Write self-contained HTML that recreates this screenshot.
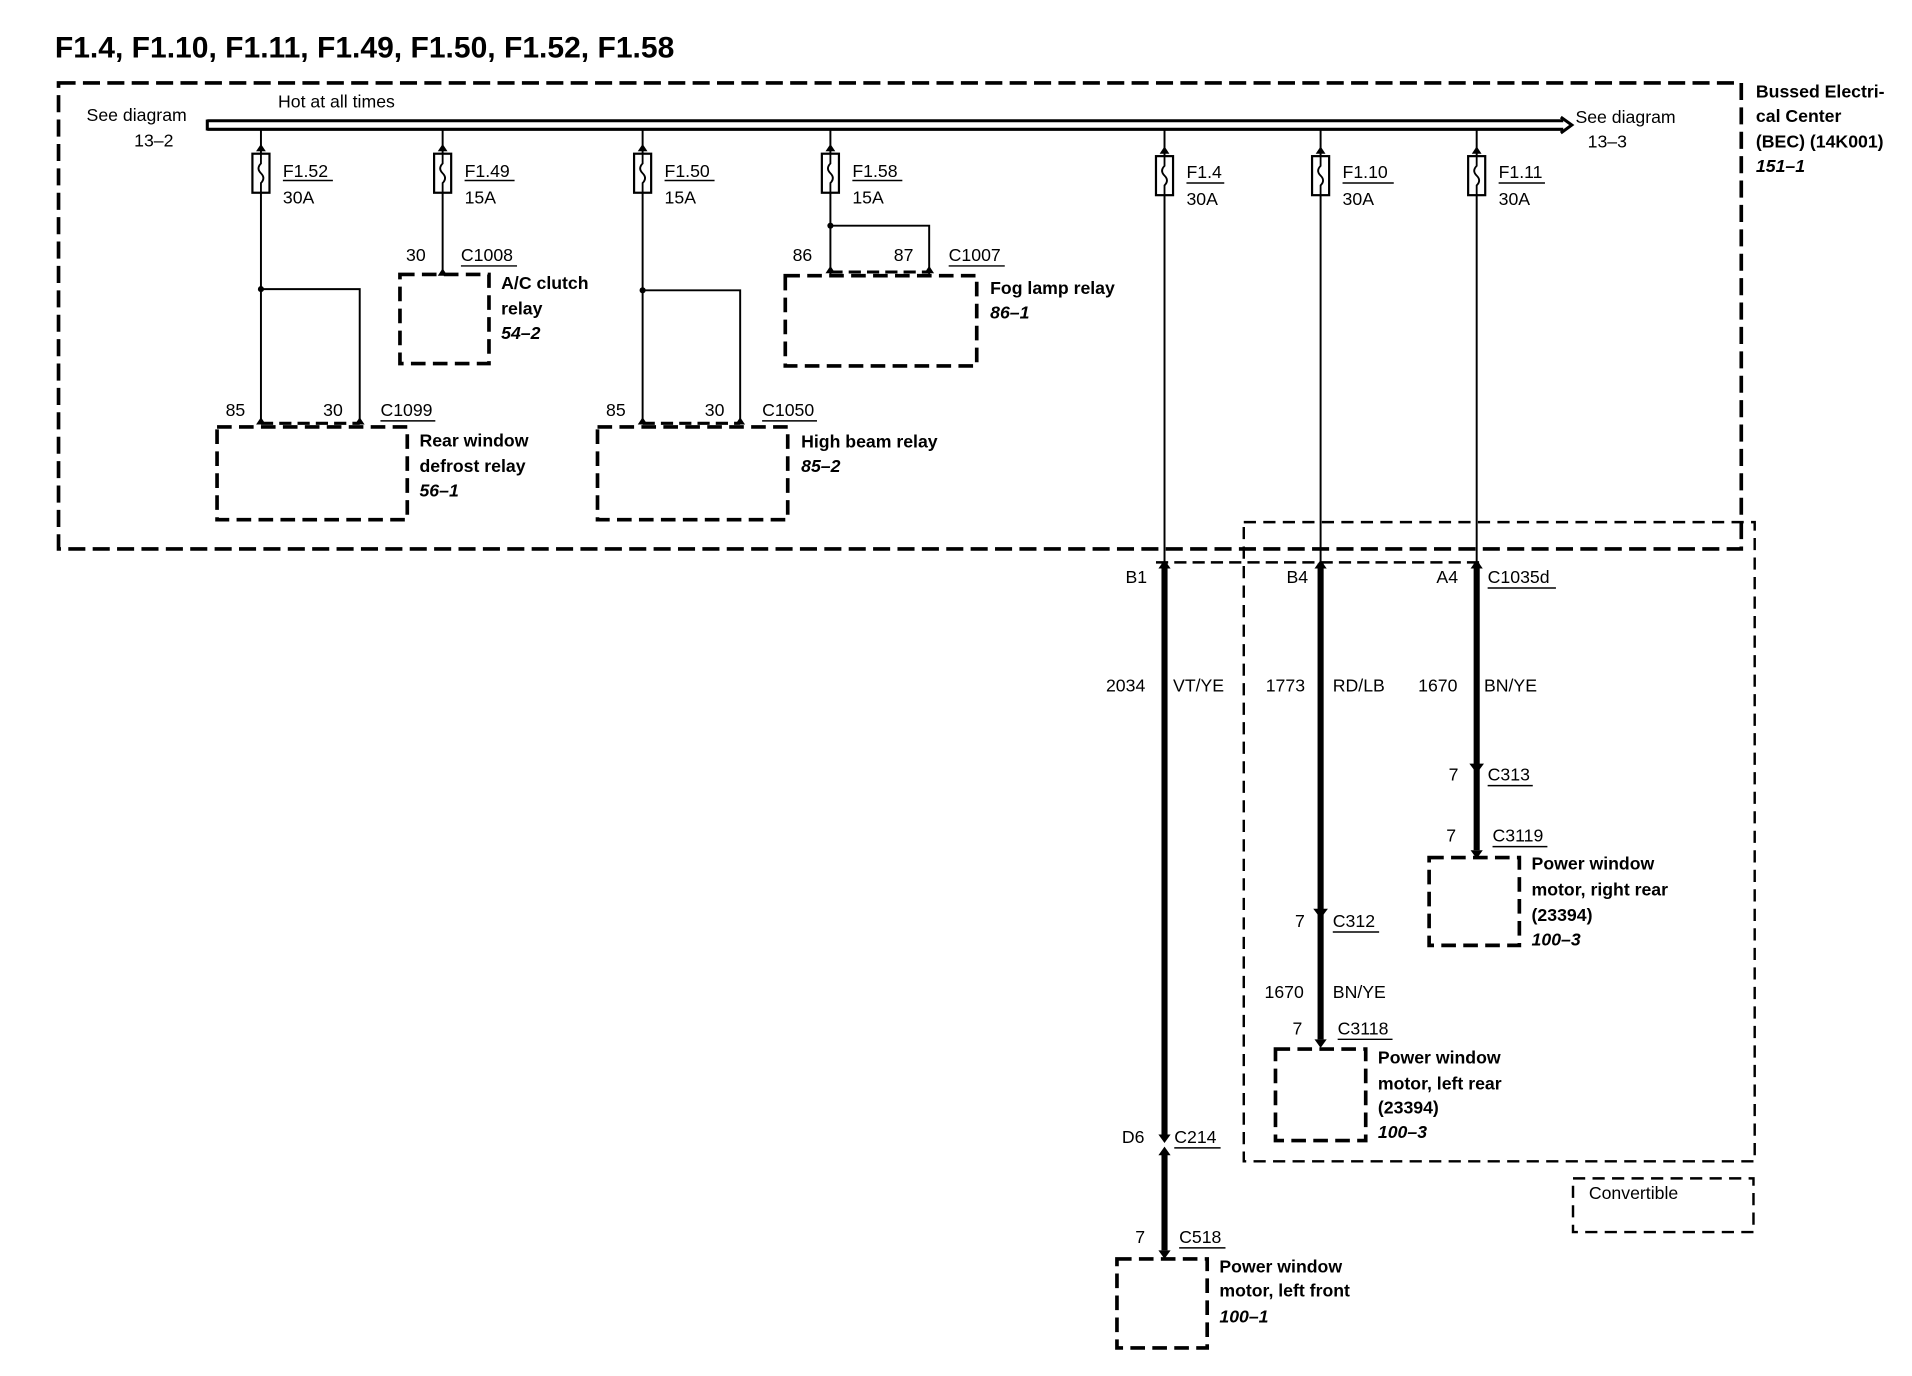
<!DOCTYPE html>
<html><head><meta charset="utf-8"><style>
html,body{margin:0;padding:0;background:#fff;}
svg{display:block;}
text{font-family:"Liberation Sans",Arial,sans-serif;font-size:14.5px;fill:#000;}
.b{font-weight:bold;}
.i{font-weight:bold;font-style:italic;}
</style></head><body>
<svg width="1912" height="1376" viewBox="0 0 1568 1128" preserveAspectRatio="none" xmlns="http://www.w3.org/2000/svg">
<g fill="none" stroke="#000">
<rect x="48" y="68" width="1380" height="382" stroke-width="3" stroke-dasharray="14,6"/>
<rect x="1020" y="428" width="419" height="524" stroke-width="2" stroke-dasharray="10,6"/>
<rect x="1290" y="966" width="148" height="44" stroke-width="2" stroke-dasharray="10,6"/>
<line x1="948" y1="461" x2="1216" y2="461" stroke-width="2" stroke-dasharray="10,5"/>
<line x1="170" y1="99" x2="1282" y2="99" stroke-width="2.5"/>
<line x1="170" y1="106" x2="1282" y2="106" stroke-width="2.5"/>
<line x1="170" y1="98" x2="170" y2="107" stroke-width="2.5"/>
<polyline points="1280,96 1289,102.5 1280,109" stroke-width="2.5"/>
<g stroke-width="1.6">
<line x1="214" y1="106" x2="214" y2="347"/>
<polyline points="214,237 295,237 295,347"/>
<line x1="363" y1="106" x2="363" y2="225"/>
<line x1="527" y1="106" x2="527" y2="347"/>
<polyline points="527,238 607,238 607,347"/>
<line x1="681" y1="106" x2="681" y2="225"/>
<polyline points="681,185 762,185 762,225"/>
<line x1="955" y1="106" x2="955" y2="460"/>
<line x1="1083" y1="106" x2="1083" y2="460"/>
<line x1="1211" y1="106" x2="1211" y2="460"/>
</g>
<g stroke-width="5">
<line x1="955" y1="462" x2="955" y2="932"/>
<line x1="955" y1="945" x2="955" y2="1025"/>
<line x1="1083" y1="462" x2="1083" y2="852"/>
<line x1="1211" y1="462" x2="1211" y2="697"/>
</g>
<g stroke-width="1.8" fill="#fff">
<rect x="207" y="126" width="14" height="32"/>
<rect x="356" y="126" width="14" height="32"/>
<rect x="520" y="126" width="14" height="32"/>
<rect x="674" y="126" width="14" height="32"/>
<rect x="948" y="128" width="14" height="32"/>
<rect x="1076" y="128" width="14" height="32"/>
<rect x="1204" y="128" width="14" height="32"/>
</g>
<g stroke-width="1.5">
<path d="M214,126 v8 q-4,4 0,8 q4,4 0,8 v8"/>
<path d="M363,126 v8 q-4,4 0,8 q4,4 0,8 v8"/>
<path d="M527,126 v8 q-4,4 0,8 q4,4 0,8 v8"/>
<path d="M681,126 v8 q-4,4 0,8 q4,4 0,8 v8"/>
<path d="M955,128 v8 q-4,4 0,8 q4,4 0,8 v8"/>
<path d="M1083,128 v8 q-4,4 0,8 q4,4 0,8 v8"/>
<path d="M1211,128 v8 q-4,4 0,8 q4,4 0,8 v8"/>
</g>
<g stroke-width="3" stroke-dasharray="12,6">
<rect x="178" y="350" width="156" height="76"/>
<rect x="328" y="225" width="73" height="73"/>
<rect x="490" y="350" width="156" height="76"/>
<rect x="644" y="226" width="157" height="74"/>
<rect x="916" y="1032" width="74" height="73"/>
<rect x="1046" y="860" width="74" height="75"/>
<rect x="1172" y="703" width="74" height="72"/>
</g>
<g stroke-width="2.5" stroke-dasharray="10,5">
<line x1="214" y1="347" x2="295" y2="347"/>
<line x1="527" y1="347" x2="607" y2="347"/>
<line x1="681" y1="223" x2="762" y2="223"/>
</g>
<g stroke-width="1.2">
<line x1="232" y1="148" x2="273" y2="148"/>
<line x1="381" y1="148" x2="422" y2="148"/>
<line x1="545" y1="148" x2="586" y2="148"/>
<line x1="699" y1="148" x2="740" y2="148"/>
<line x1="973" y1="150" x2="1004" y2="150"/>
<line x1="1101" y1="150" x2="1143" y2="150"/>
<line x1="1229" y1="150" x2="1267" y2="150"/>
<line x1="312" y1="345" x2="357" y2="345"/>
<line x1="378" y1="218" x2="424" y2="218"/>
<line x1="625" y1="345" x2="670" y2="345"/>
<line x1="778" y1="218" x2="824" y2="218"/>
<line x1="1220" y1="482" x2="1276" y2="482"/>
<line x1="1220" y1="644" x2="1257" y2="644"/>
<line x1="1224" y1="694" x2="1269" y2="694"/>
<line x1="1093" y1="764" x2="1131" y2="764"/>
<line x1="1097" y1="852" x2="1142" y2="852"/>
<line x1="963" y1="941" x2="1001" y2="941"/>
<line x1="967" y1="1023" x2="1005" y2="1023"/>
</g>
</g>
<g fill="#000">
<circle cx="214" cy="237" r="2.5"/><circle cx="527" cy="238" r="2.5"/><circle cx="681" cy="185" r="2.5"/>
<path d="M210,124 l4,-6 l4,6z M359,124 l4,-6 l4,6z M523,124 l4,-6 l4,6z M677,124 l4,-6 l4,6z M951,126 l4,-6 l4,6z M1079,126 l4,-6 l4,6z M1207,126 l4,-6 l4,6z"/>
<path d="M210,348 l4,-6 l4,6z M291,348 l4,-6 l4,6z M523,348 l4,-6 l4,6z M603,348 l4,-6 l4,6z M359,226 l4,-6 l4,6z M677,224 l4,-6 l4,6z M758,224 l4,-6 l4,6z"/>
<path d="M950,466 l5,-7 l5,7z M1078,466 l5,-7 l5,7z M1206,466 l5,-7 l5,7z"/>
<path d="M950,930 l5,7 l5,-7z M950,947 l5,-7 l5,7z M1077,745 l6,8 l6,-8z M1205,626 l6,8 l6,-8z"/>
<path d="M950,1025 l5,7 l5,-7z M1078,852 l5,7 l5,-7z M1206,697 l5,7 l5,-7z"/>
</g>
<text x="45" y="47" class="b" style="font-size:24px" textLength="508" lengthAdjust="spacingAndGlyphs">F1.4, F1.10, F1.11, F1.49, F1.50, F1.52, F1.58</text>
<text x="71" y="99">See diagram</text><text x="110" y="120">13–2</text>
<text x="228" y="88">Hot at all times</text>
<text x="1292" y="101">See diagram</text><text x="1302" y="121">13–3</text>
<text x="1440" y="80" class="b">Bussed Electri-</text>
<text x="1440" y="100" class="b">cal Center</text>
<text x="1440" y="121" class="b">(BEC) (14K001)</text>
<text x="1440" y="141" class="i">151–1</text>
<text x="232" y="145">F1.52</text><text x="232" y="167">30A</text>
<text x="381" y="145">F1.49</text><text x="381" y="167">15A</text>
<text x="545" y="145">F1.50</text><text x="545" y="167">15A</text>
<text x="699" y="145">F1.58</text><text x="699" y="167">15A</text>
<text x="973" y="146">F1.4</text><text x="973" y="168">30A</text>
<text x="1101" y="146">F1.10</text><text x="1101" y="168">30A</text>
<text x="1229" y="146">F1.11</text><text x="1229" y="168">30A</text>
<text x="185" y="341">85</text><text x="265" y="341">30</text><text x="312" y="341">C1099</text>
<text x="344" y="366" class="b">Rear window</text><text x="344" y="387" class="b">defrost relay</text><text x="344" y="407" class="i">56–1</text>
<text x="333" y="214">30</text><text x="378" y="214">C1008</text>
<text x="411" y="237" class="b">A/C clutch</text><text x="411" y="258" class="b">relay</text><text x="411" y="278" class="i">54–2</text>
<text x="497" y="341">85</text><text x="578" y="341">30</text><text x="625" y="341">C1050</text>
<text x="657" y="367" class="b">High beam relay</text><text x="657" y="387" class="i">85–2</text>
<text x="650" y="214">86</text><text x="733" y="214">87</text><text x="778" y="214">C1007</text>
<text x="812" y="241" class="b">Fog lamp relay</text><text x="812" y="261" class="i">86–1</text>
<text x="923" y="478">B1</text><text x="907" y="567">2034</text><text x="962" y="567">VT/YE</text>
<text x="920" y="937">D6</text><text x="963" y="937">C214</text>
<text x="931" y="1019">7</text><text x="967" y="1019">C518</text>
<text x="1000" y="1043" class="b">Power window</text><text x="1000" y="1063" class="b">motor, left front</text><text x="1000" y="1084" class="i">100–1</text>
<text x="1055" y="478">B4</text><text x="1038" y="567">1773</text><text x="1093" y="567">RD/LB</text>
<text x="1062" y="760">7</text><text x="1093" y="760">C312</text>
<text x="1037" y="818">1670</text><text x="1093" y="818">BN/YE</text>
<text x="1060" y="848">7</text><text x="1097" y="848">C3118</text>
<text x="1130" y="872" class="b">Power window</text><text x="1130" y="893" class="b">motor, left rear</text><text x="1130" y="913" class="b">(23394)</text><text x="1130" y="933" class="i">100–3</text>
<text x="1178" y="478">A4</text><text x="1220" y="478">C1035d</text>
<text x="1163" y="567">1670</text><text x="1217" y="567">BN/YE</text>
<text x="1188" y="640">7</text><text x="1220" y="640">C313</text>
<text x="1186" y="690">7</text><text x="1224" y="690">C3119</text>
<text x="1256" y="713" class="b">Power window</text><text x="1256" y="734" class="b">motor, right rear</text><text x="1256" y="755" class="b">(23394)</text><text x="1256" y="775" class="i">100–3</text>
<text x="1303" y="983">Convertible</text>
</svg>
</body></html>
